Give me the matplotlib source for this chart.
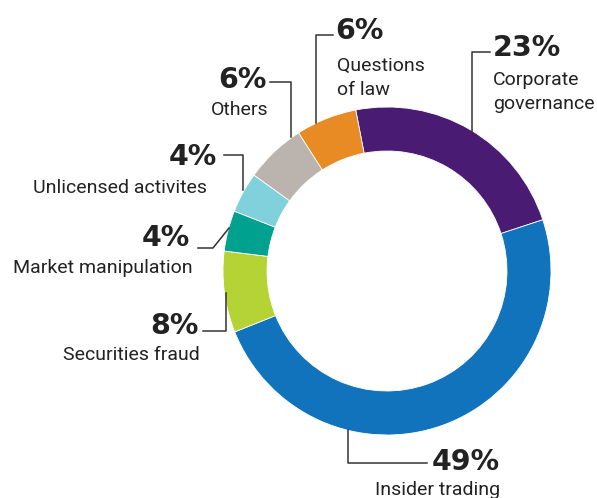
import matplotlib.pyplot as plt

# shares of cases, clockwise from the top
categories = ["Corporate\ngovernance", "Insider trading", "Securities fraud",
              "Market manipulation", "Unlicensed activites", "Others",
              "Questions\nof law"]
shares = [23, 49, 8, 4, 4, 6, 6]
pct_labels = ["23%", "49%", "8%", "4%", "4%", "6%", "6%"]
colors = ["#4a1b72", "#1173bb", "#b5d334", "#00a18e", "#80d1dc", "#bbb3ad", "#e88b24"]

plt.rcParams['font.family'] = ['Roboto', 'DejaVu Sans']

W, H = 597, 498
fig = plt.figure(figsize=(W / 100, H / 100), dpi=100)
ax = fig.add_axes([0, 0, 1, 1])

cx, cy, r = 387, 227, 164
ax.pie(shares, colors=colors, startangle=101, counterclock=False,
       center=(cx, cy), radius=r, frame=True,
       wedgeprops=dict(width=44, linewidth=0.6, edgecolor='white'))
ax.set_xlim(0, W)
ax.set_ylim(0, H)
ax.set_aspect('equal')
ax.axis('off')

txt = '#222222'
line = dict(color='#333333', lw=1.1)

# (pct pos, label pos, alignment, leader line points) in pixel coords from top
layout = [
    ((493, 48), (493, 92), 'left', [(472, 132), (472, 52), (490, 52)]),
    ((500, 462), (438, 490), 'right', [(348, 430), (348, 463), (427, 463)]),
    ((199, 326), (200, 355), 'right', [(226, 293), (226, 331), (203, 331)]),
    ((190, 238), (193, 268), 'right', [(229, 228), (213, 248), (198, 248)]),
    ((217, 157), (207, 188), 'right', [(243, 190), (243, 155), (224, 155)]),
    ((267, 80), (269, 110), 'right', [(291, 137), (291, 82), (270, 82)]),
    ((335, 31), (337, 78), 'left', [(316, 123), (316, 35), (333, 35)]),
]

for i, (ppos, lpos, ha, pts) in enumerate(layout):
    ax.text(ppos[0], H - ppos[1], pct_labels[i], ha=ha, va='center',
            fontsize=20.5, fontweight='bold', color=txt, family='DejaVu Sans')
    lha = 'center' if i == 1 else ha
    ax.text(lpos[0], H - lpos[1], categories[i], ha=lha, va='center',
            fontsize=14, color=txt, linespacing=1.4)
    xs = [p[0] for p in pts]
    ys = [H - p[1] for p in pts]
    ax.plot(xs, ys, **line)

fig.savefig('out.png', dpi=100)
